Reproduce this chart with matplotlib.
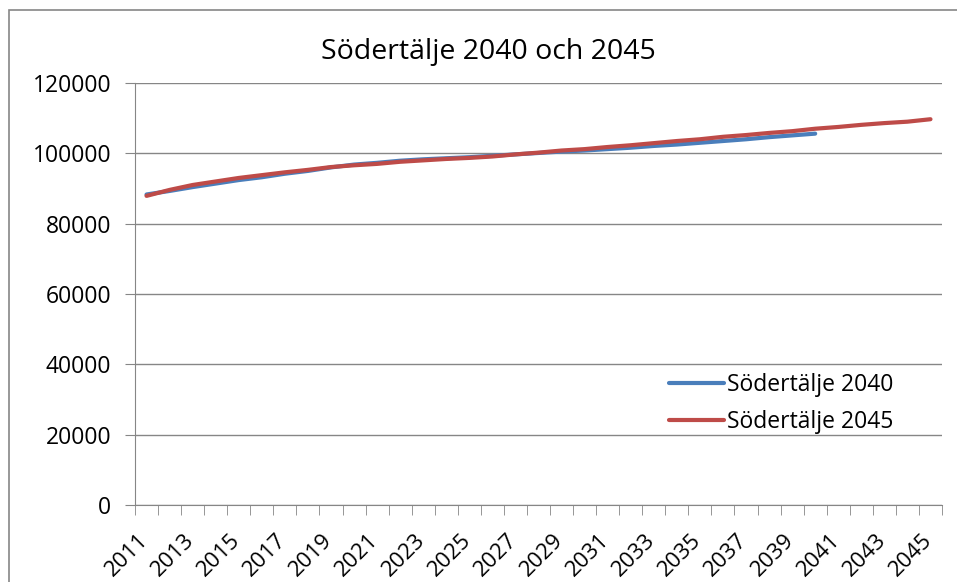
import matplotlib
matplotlib.use("Agg")
import matplotlib.pyplot as plt
import matplotlib.transforms as mtransforms
from matplotlib.patches import Rectangle
import numpy as np

plt.rcParams['font.family'] = ['Open Sans', 'DejaVu Sans']

years = list(range(2011, 2046))
s2045 = [87900, 89600, 91000, 92000, 93000, 93800, 94600, 95300, 96100, 96600,
         97000, 97600, 98000, 98400, 98700, 99100, 99700, 100200, 100800, 101200,
         101800, 102300, 102900, 103500, 104000, 104700, 105200, 105800, 106300, 107000,
         107500, 108100, 108600, 109000, 109700]
s2040 = [88300, 89300, 90400, 91400, 92400, 93200, 94200, 95000, 96000, 96800,
         97300, 97900, 98300, 98600, 98900, 99300, 99700, 100100, 100500, 100800,
         101200, 101600, 102100, 102500, 103000, 103500, 104000, 104600, 105100, 105600]
title = "Södertälje 2040 och 2045"
names = ["Södertälje 2040", "Södertälje 2045"]
yticks = [0, 20000, 40000, 60000, 80000, 100000, 120000]

fig = plt.figure(figsize=(9.57, 5.82), dpi=100)
fig.patches.append(Rectangle((9/957, -0.1), 1.2, 1 - 10/582 + 0.1, transform=fig.transFigure,
                             fill=False, edgecolor='#868686', linewidth=1.2))
ax = fig.add_axes([135/957, 1 - 505/582, 807/957, 422/582])

x40 = np.arange(len(s2040))
x45 = np.arange(len(s2045))
ax.plot(x40, s2040, color='#4A7EBB', linewidth=3.0, solid_capstyle='round', label=names[0])
ax.plot(x45, s2045, color='#BE4B48', linewidth=3.0, solid_capstyle='round', label=names[1])

ax.set_xlim(-0.5, len(years) - 0.5)
ax.set_ylim(0, 120000)
ax.set_yticks(yticks)
ax.set_yticklabels([str(v) for v in yticks], fontsize=16.5)
ax.yaxis.grid(True, color='#868686', linewidth=1)
ax.set_axisbelow(True)

ax.set_xticks(np.arange(-0.5, len(years), 1), minor=True)
ax.set_xticks(np.arange(0, len(years), 2))
ax.set_xticklabels([str(y) for y in years[::2]], rotation=45, ha='right', va='top',
                   rotation_mode='anchor', fontsize=16)
ax.tick_params(axis='x', which='major', length=0, pad=18)
ax.tick_params(axis='x', which='minor', length=7, color='#868686')
ax.tick_params(axis='y', length=7, color='#868686', pad=10)

shift = mtransforms.ScaledTranslation(-9/100, 0, fig.dpi_scale_trans)
for lab in ax.get_xticklabels():
    lab.set_transform(lab.get_transform() + shift)

for s in ['top', 'right']:
    ax.spines[s].set_visible(False)
for s in ['left', 'bottom']:
    ax.spines[s].set_color('#868686')

fig.text(488/957, 1 - 52/582, title, fontsize=20.5, ha='center', va='center')
fig.legend(loc='center left', bbox_to_anchor=(669/957, 1 - 403.5/582), frameon=False,
           fontsize=16.5, handlelength=2.4, handletextpad=0.15, borderpad=0,
           borderaxespad=0, labelspacing=0.6)

fig.savefig('out.png', dpi=100)
